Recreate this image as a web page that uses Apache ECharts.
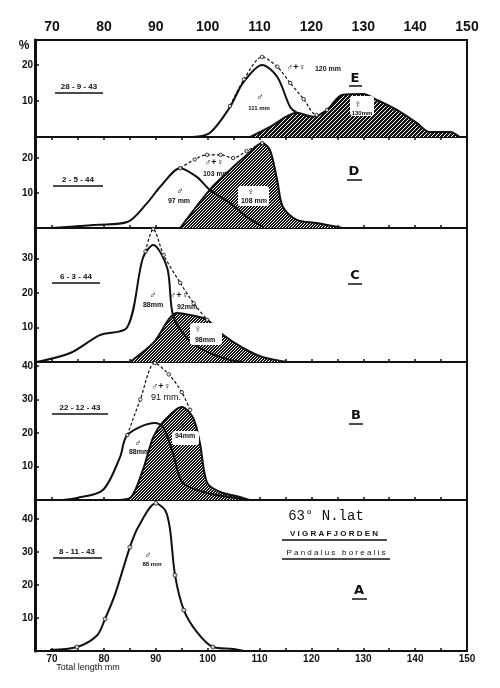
<!DOCTYPE html>
<html><head><meta charset="utf-8">
<script src="https://cdn.jsdelivr.net/npm/echarts@6/dist/echarts.min.js"></script>
<style>html,body{margin:0;padding:0;background:#fff}#c{width:500px;height:688px}</style>
</head><body><div id="c"></div>
<script>
// ---- data (total length mm, percent) ----
const xTickLabels = [70, 80, 90, 100, 110, 120, 130, 140, 150];
const xMinorTicks = [70, 75, 80, 85, 90, 95, 100, 105, 110, 115, 120, 125, 130, 135, 140, 145, 150];

// Panel E  28-9-43
const E_male = [[97,0],[100.4,1.1],[104.3,8.3],[106.8,15],[110.5,20],[113.4,16.7],[115.9,8.3],[117.2,6.7]];
const E_female = [[108.2,0],[112,2.8],[117.2,6.7],[120.3,5.6],[123,7.5],[126,11.7],[130,11.9],[132.6,10.3],[136.5,7.5],[140.3,3.9],[142.8,1.4],[146.7,1.4],[148.6,0]];
const E_total = [[104.3,8.6],[107,16],[110.5,22.2],[113.4,19.5],[115.9,15],[118.5,10.5],[121,6.1],[123,7.5]];
const E_yTicks = [10, 20];

// Panel D  2-5-44
const D_male = [[70,0],[78.7,0.9],[84.5,1.7],[88.3,7.1],[90.8,11.7],[94.7,17.1],[97.9,14.6],[100.4,10.9],[104.3,7.1],[107.6,3.1],[110.7,0.3]];
const D_female = [[94.7,0],[100.4,10.9],[104.3,16.6],[107.6,20.9],[110.5,24.3],[112,22.3],[113.4,13.7],[114.5,6],[117.2,2.3],[121,1.4],[126,0]];
const D_total = [[94.7,17.1],[97.5,19.6],[99.9,20.9],[102.5,20.9],[104.9,20],[107.5,22],[110.5,24.3]];
const D_yTicks = [10, 20];

// Panel C  6-3-44
const C_male = [[67,0],[73.5,2.6],[79.2,7.8],[84.5,10.1],[87.5,30.1],[89.5,33.9],[92.2,27.2],[93.3,13.6],[96,7],[99.9,2.9],[104.3,0.6],[107,0]];
const C_female = [[85,0],[89.5,5.5],[94.1,14.2],[96.6,13.6],[99.9,12.2],[103,7.8],[106.8,4.1],[110.7,1.4],[115.3,0]];
const C_total = [[88,32],[89.5,38.5],[91.5,31],[94.7,22.9],[97.3,17],[99.9,12.2],[102.4,7.8]];
const C_yTicks = [10, 20, 30];

// Panel B  22-12-43
const B_male = [[72,0],[74.8,0.6],[79.8,3],[83.1,12.8],[84.5,19.4],[89.8,23],[91.4,21.8],[93.3,14],[95.2,5.1],[99.9,2.1],[104.3,0.9],[107.6,0]];
const B_female = [[82,0],[85,0.6],[87.5,9],[89.5,18.8],[91.4,23.3],[95,27.8],[97.2,24.5],[98.5,17],[99.9,5.1],[102.4,2.4],[106.2,0.9],[108,0]];
const B_total = [[84.5,19.4],[87,30],[89.8,40.9],[92.5,37.5],[95,32.2],[96.6,26.9]];
const B_yTicks = [10, 20, 30, 40];

// Panel A  8-11-43
const A_male = [[69.6,0.3],[74.8,1.2],[78.7,4.8],[80.2,9.7],[82.1,17],[85,31.5],[86.6,37.6],[90,44.8],[91.8,42.7],[92.7,37.3],[93.7,23],[95.4,12.4],[97.9,5.8],[101,1.2],[104.9,0.6],[107,0]];
const A_marked = [[74.8,1.2],[80.2,9.7],[85,31.5],[90,44.8],[93.7,23],[95.4,12.4],[101,1.2]];
const A_yTicks = [10, 20, 30, 40];

// ---- styling helpers ----
function hatch(p, dark) {
  const n = p * 6;
  const c = document.createElement('canvas');
  c.width = n; c.height = n;
  const ctx = c.getContext('2d');
  const img = ctx.createImageData(n, n);
  for (let y = 0; y < n; y++) for (let x = 0; x < n; x++) {
    const v = ((x + y) % p) < dark ? 20 : 255;
    const i = (y * n + x) * 4;
    img.data[i] = v; img.data[i+1] = v; img.data[i+2] = v; img.data[i+3] = 255;
  }
  ctx.putImageData(img, 0, 0);
  return c;
}
const hatchDark = hatch(4, 3);
const hatchMid = hatch(3, 2);

const LEFT = 35, RIGHT = 33;
const panels = [
  { top: 40,  h: 97,  max: 26.9, yt: E_yTicks, male: E_male, female: E_female, total: E_total, pat: hatchDark, marks: null },
  { top: 137, h: 91,  max: 26.0, yt: D_yTicks, male: D_male, female: D_female, total: D_total, pat: hatchMid, marks: null },
  { top: 228, h: 134, max: 38.8, yt: C_yTicks, male: C_male, female: C_female, total: C_total, pat: hatchMid, marks: null },
  { top: 362, h: 138, max: 41.2, yt: B_yTicks, male: B_male, female: B_female, total: B_total, pat: hatchMid, marks: null },
  { top: 500, h: 151, max: 45.8, yt: A_yTicks, male: A_male, female: null, total: null, pat: null, marks: A_marked }
];

const grid = [], xAxis = [], yAxis = [], series = [];
panels.forEach((p, i) => {
  grid.push({ left: LEFT, right: RIGHT, top: p.top, height: p.h, show: true, borderColor: '#111', borderWidth: 2, backgroundColor: 'transparent' });
  const isTop = i === 0, isBottom = i === panels.length - 1;
  xAxis.push({
    type: 'value', gridIndex: i, min: 66.7, max: 150,
    position: isTop ? 'top' : 'bottom',
    axisLine: { show: true, lineStyle: { color: '#111', width: 2 } },
    axisTick: { show: true, inside: true, length: 3, customValues: xMinorTicks, lineStyle: { color: '#111', width: 1.5 } },
    splitLine: { show: false },
    axisLabel: (isTop || isBottom) ? {
      show: true, customValues: xTickLabels, color: '#111',
      fontFamily: 'Liberation Sans', fontWeight: 'bold',
      fontSize: isTop ? 14 : 10, margin: isTop ? 6 : 3
    } : { show: false }
  });
  yAxis.push({
    type: 'value', gridIndex: i, min: 0, max: p.max,
    axisLine: { show: true, lineStyle: { color: '#111', width: 3 } },
    axisTick: { show: true, inside: true, length: 4, customValues: p.yt, lineStyle: { color: '#111', width: 1.5 } },
    splitLine: { show: false },
    axisLabel: { show: true, customValues: p.yt, color: '#111', fontFamily: 'Liberation Sans', fontWeight: 'bold', fontSize: 10, margin: 2 }
  });
  const common = { xAxisIndex: i, yAxisIndex: i, type: 'line', smooth: 0.3, animation: false, silent: true, symbol: 'none', showSymbol: false };
  if (p.female) {
    series.push(Object.assign({}, common, {
      data: p.female,
      lineStyle: { color: '#111', width: 2, type: 'solid' },
      areaStyle: { color: { image: p.pat, repeat: 'repeat' }, opacity: 1 }, z: 2
    }));
  }
  series.push(Object.assign({}, common, {
    data: p.male,
    lineStyle: { color: '#111', width: 2, type: 'solid' }, z: 3
  }));
  if (p.total) {
    series.push(Object.assign({}, common, {
      data: p.total,
      lineStyle: { color: '#111', width: 1.2, type: [3, 2] }, z: 4
    }));
    series.push({
      type: 'scatter', xAxisIndex: i, yAxisIndex: i, data: p.total, symbol: 'circle', symbolSize: 3.5,
      itemStyle: { color: '#fff', borderColor: '#111', borderWidth: 1 }, silent: true, animation: false, z: 5
    });
  }
  if (p.marks) {
    series.push({
      type: 'scatter', xAxisIndex: i, yAxisIndex: i, data: p.marks, symbol: 'circle', symbolSize: 4,
      itemStyle: { color: '#fff', borderColor: '#111', borderWidth: 1 }, silent: true, animation: false, z: 5
    });
  }
});

// ---- annotations ----
const g = [];
function txt(x, y, text, size, opt) {
  opt = opt || {};
  g.push({ type: 'text', z: 100, style: Object.assign({
    text: text, x: x, y: y, fill: '#111', align: 'center', verticalAlign: 'middle',
    font: (opt.weight || 'bold') + ' ' + size + 'px ' + (opt.family || '"Liberation Sans"')
  }, opt.extra || {}) });
}
function ul(x1, x2, y, w) {
  g.push({ type: 'line', z: 100, shape: { x1: x1, y1: y, x2: x2, y2: y }, style: { stroke: '#111', lineWidth: w || 1.3 } });
}
function box(x, y, w, h) {
  g.push({ type: 'rect', z: 99, shape: { x: x, y: y, width: w, height: h, r: 3 }, style: { fill: '#fff' } });
}
// E
txt(79, 87, '28 - 9 - 43', 8); ul(55, 103, 93);
txt(296, 68, '♂+♀', 9); txt(328, 69, '120 mm', 7);
txt(355, 79, 'E', 13, { family: '"DejaVu Sans"' }); ul(349, 362, 86, 1.5);
txt(260, 97, '♂', 10); txt(259, 108, '111 mm', 6);
box(350, 96, 24, 20); txt(358, 104, '♀', 10); txt(362, 113, '130mm', 6);
// D
txt(78, 180, '2 - 5 - 44', 8); ul(53, 103, 186);
txt(214, 163, '♂+♀', 9); txt(216, 174, '103 mm', 7);
txt(180, 191, '♂', 10); txt(179, 201, '97 mm', 7);
box(238, 186, 31, 20); txt(251, 192, '♀', 10); txt(254, 201, '108 mm', 7);
txt(354, 172, 'D', 13, { family: '"DejaVu Sans"' }); ul(347, 362, 180, 1.5);
// C
txt(76, 277, '6 - 3 - 44', 8); ul(52, 100, 283);
txt(153, 295, '♂', 10); txt(153, 305, '88mm', 7);
txt(179, 296, '♂+♀', 9); txt(187, 307, '92mm', 7);
box(190, 323, 32, 22); txt(198, 329, '♀', 10); txt(205, 340, '98mm', 7);
txt(355, 276, 'C', 13, { family: '"DejaVu Sans"' }); ul(348, 362, 284, 1.5);
// B
txt(80, 408, '22 - 12 - 43', 8); ul(52, 108, 414);
txt(161, 387, '♂+♀', 9); txt(166, 398, '91 mm.', 9, { weight: 'normal' });
txt(138, 443, '♂', 10); txt(139, 452, '88mm', 7);
box(172, 431, 27, 14); txt(183, 426, '♀', 10); txt(185, 436, '94mm', 7);
txt(356, 416, 'B', 13, { family: '"DejaVu Sans"' }); ul(349, 363, 424, 1.5);
// A
txt(77, 552, '8 - 11 - 43', 8); ul(53, 102, 558);
txt(148, 555, '♂', 10); txt(152, 564, '88 mm', 6);
txt(326, 516, '63° N.lat', 14, { weight: 'normal', family: '"Liberation Mono"' });
txt(334, 534, 'V I G R A F J O R D E N', 8); ul(282, 387, 540);
txt(336, 553, 'P a n d a l u s   b o r e a l i s', 8, { weight: 'normal' }); ul(282, 390, 559);
txt(359, 591, 'A', 13, { family: '"DejaVu Sans"' }); ul(352, 367, 599, 1.5);
txt(88, 668, 'Total length mm', 9, { weight: 'normal' });
txt(24, 46, '%', 12);

const chart = echarts.init(document.getElementById('c'), null, { renderer: 'canvas' });
chart.setOption({ animation: false, backgroundColor: '#fff', grid, xAxis, yAxis, series, graphic: g });
</script></body></html>
